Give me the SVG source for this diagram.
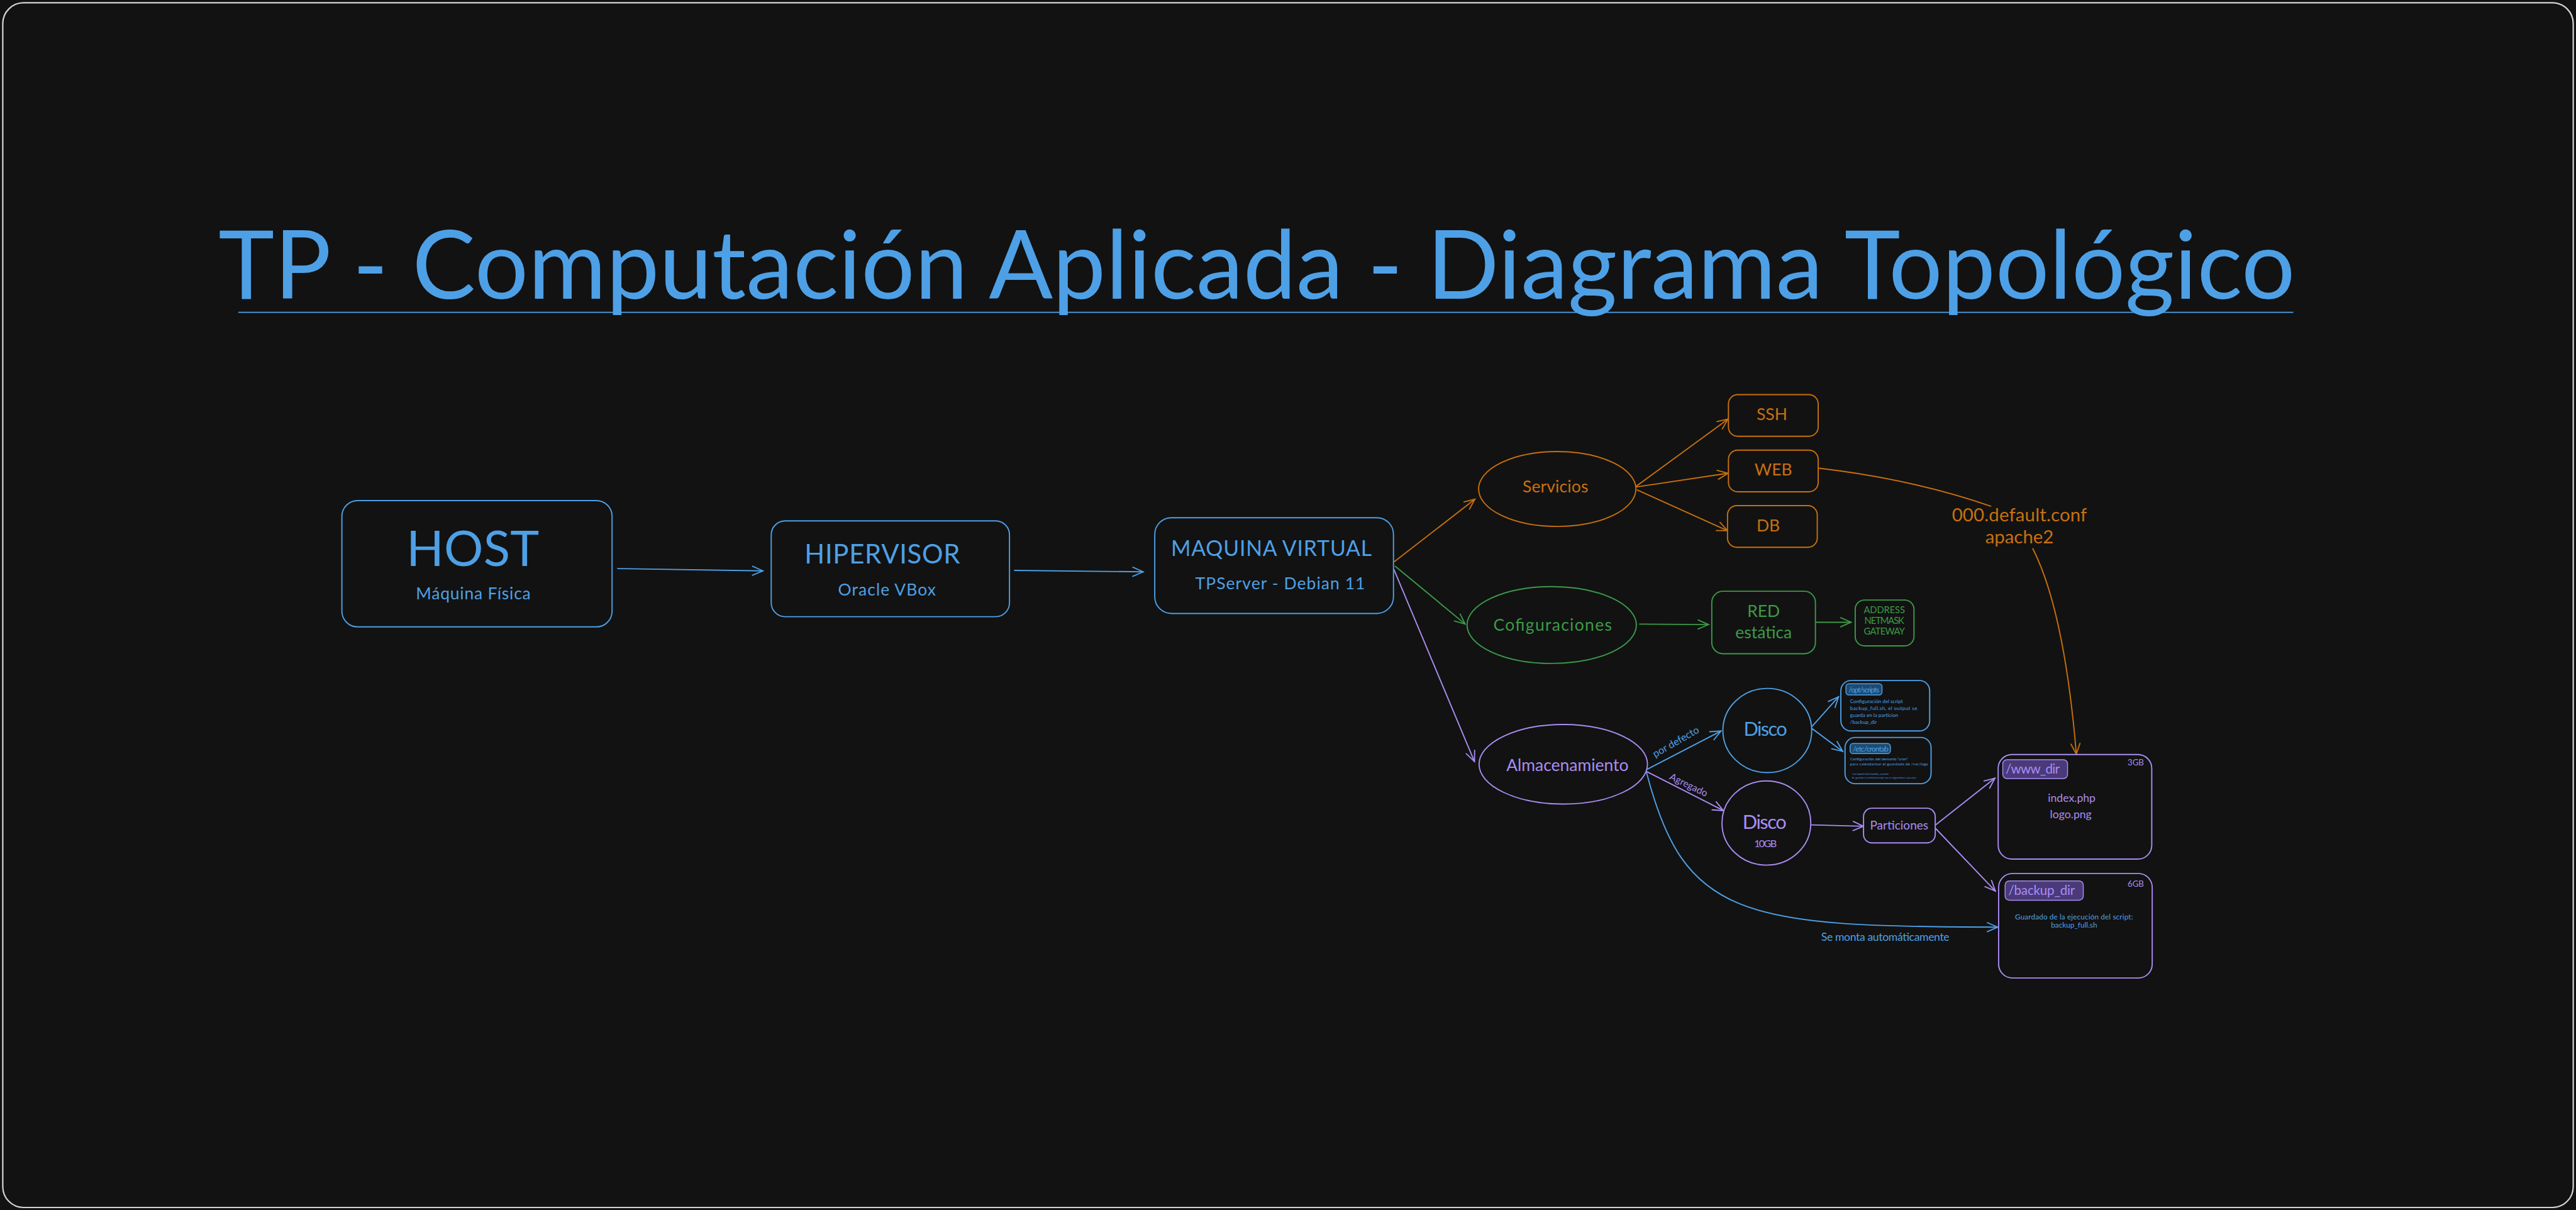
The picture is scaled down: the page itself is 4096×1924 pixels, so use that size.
<svg xmlns="http://www.w3.org/2000/svg" width="4096" height="1924" viewBox="0 0 4096 1924">
<defs>
<style>
.sans{font-family:"Lato","Noto Sans",sans-serif}
.hand{font-family:"Lato","Noto Sans",sans-serif}
.nb{fill:#121212;stroke-width:2.6}
.blue{stroke:#4ea0e6}
.orange{stroke:#c8700e}
.green{stroke:#3c9a48}
.purple{stroke:#a98df2}
.tb{fill:#4ea0e6}
.to{fill:#c8700e}
.tg{fill:#3c9a48}
.tp{fill:#a98df2}
.mid{text-anchor:middle}
.conn path{fill:none;stroke-width:2.6;stroke-linecap:round}
</style>
<marker id="ab" viewBox="0 0 20 20" refX="18" refY="10" markerWidth="28" markerHeight="28" markerUnits="userSpaceOnUse" orient="auto"><path d="M2,3 L18,10 L2,17" fill="none" stroke="#4ea0e6" stroke-width="1.8" stroke-linecap="round"/></marker>
<marker id="ao" viewBox="0 0 20 20" refX="18" refY="10" markerWidth="28" markerHeight="28" markerUnits="userSpaceOnUse" orient="auto"><path d="M2,3 L18,10 L2,17" fill="none" stroke="#c8700e" stroke-width="1.8" stroke-linecap="round"/></marker>
<marker id="ag" viewBox="0 0 20 20" refX="18" refY="10" markerWidth="28" markerHeight="28" markerUnits="userSpaceOnUse" orient="auto"><path d="M2,3 L18,10 L2,17" fill="none" stroke="#3c9a48" stroke-width="1.8" stroke-linecap="round"/></marker>
<marker id="ap" viewBox="0 0 20 20" refX="18" refY="10" markerWidth="28" markerHeight="28" markerUnits="userSpaceOnUse" orient="auto"><path d="M2,3 L18,10 L2,17" fill="none" stroke="#a98df2" stroke-width="1.8" stroke-linecap="round"/></marker>
</defs>
<rect x="0" y="0" width="4096" height="1924" fill="#121212"/>
<g transform="scale(0.735632)">
<rect x="6" y="6" width="5556" height="2604" rx="45" fill="#121212" stroke="#d4d4d4" stroke-width="3"/>

<g id="title">
<text class="sans tb" x="472" y="646" font-size="207" textLength="4489" lengthAdjust="spacingAndGlyphs">TP - Computación Aplicada - Diagrama Topológico</text>
<line x1="515" y1="675" x2="4957" y2="675" stroke="#4ea0e6" stroke-width="2.5"/>
</g>

<g class="conn">
<path class="blue" d="M1335,1229 L1649,1234" marker-end="url(#ab)"/>
<path class="blue" d="M2193,1233 L2471,1236" marker-end="url(#ab)"/>
<path class="orange" d="M3014,1214 L3188,1079" marker-end="url(#ao)"/>
<path class="green" d="M3016,1224 L3167,1349" marker-end="url(#ag)"/>
<path class="purple" d="M3013,1231 L3187,1646" marker-end="url(#ap)"/>
<path class="orange" d="M3534,1053 L3735,906" marker-end="url(#ao)"/>
<path class="orange" d="M3534,1053 L3735,1023" marker-end="url(#ao)"/>
<path class="orange" d="M3539,1059 L3734,1147" marker-end="url(#ao)"/>
<path class="orange" d="M3932,1012 Q4130,1035 4303,1094"/>
<path class="orange" d="M4394,1186 Q4462,1320 4488,1630" marker-end="url(#ao)"/>
<path class="green" d="M3544,1349 L3693,1350" marker-end="url(#ag)"/>
<path class="green" d="M3926,1345 L4001,1345" marker-end="url(#ag)"/>
<path class="blue" d="M3560,1663 L3720,1580" marker-end="url(#ab)"/>
<path class="purple" d="M3560,1668 L3725,1752" marker-end="url(#ap)"/>
<path class="blue" d="M3559,1670 C3640,1980 3760,2004 4318,2004" marker-end="url(#ab)"/>
<path class="blue" d="M3917,1570 L3974,1506" marker-end="url(#ab)"/>
<path class="blue" d="M3917,1575 L3983,1624" marker-end="url(#ab)"/>
<path class="purple" d="M3916,1783 L4028,1786" marker-end="url(#ap)"/>
<path class="purple" d="M4185,1782 L4312,1682" marker-end="url(#ap)"/>
<path class="purple" d="M4184,1791 L4313,1926" marker-end="url(#ap)"/>
<text class="hand tb mid" x="3626" y="1610" font-size="22" transform="rotate(-30 3626 1610)">por defecto</text>
<text class="hand tp mid" x="3647" y="1703" font-size="21" transform="rotate(26 3647 1703)">Agregado</text>
<text class="hand tb mid" x="4075" y="2033" font-size="24" textLength="277">Se monta automáticamente</text>
<text class="hand to mid" x="4365" y="1127" font-size="40" textLength="292">000.default.conf</text>
<text class="hand to mid" x="4365" y="1174" font-size="40">apache2</text>
</g>

<g id="host">
<rect class="nb blue" x="739" y="1082" width="584" height="273" rx="34"/>
<text class="sans tb mid" x="1022" y="1223" font-size="106" textLength="287">HOST</text>
<text class="hand tb mid" x="1023" y="1295" font-size="36" textLength="248">Máquina Física</text>
</g>

<g id="hipervisor">
<rect class="nb blue" x="1667" y="1126" width="515" height="207" rx="30"/>
<text class="sans tb mid" x="1907" y="1218" font-size="57" textLength="336">HIPERVISOR</text>
<text class="hand tb mid" x="1917" y="1288" font-size="36" textLength="211">Oracle VBox</text>
</g>

<g id="maquina-virtual">
<rect class="nb blue" x="2496" y="1119" width="516" height="207" rx="36"/>
<text class="sans tb mid" x="2748" y="1202" font-size="46" textLength="434">MAQUINA VIRTUAL</text>
<text class="hand tb mid" x="2767" y="1274" font-size="36" textLength="367">TPServer - Debian 11</text>
</g>

<g id="servicios">
<ellipse class="nb orange" cx="3366" cy="1057" rx="170" ry="81"/>
<text class="hand to mid" x="3362" y="1065" font-size="36" textLength="142">Servicios</text>
</g>

<g id="ssh">
<rect class="nb orange" x="3736" y="853" width="194" height="90" rx="20"/>
<text class="hand to mid" x="3830" y="908" font-size="36">SSH</text>
</g>

<g id="web">
<rect class="nb orange" x="3736" y="973" width="194" height="90" rx="20"/>
<text class="hand to mid" x="3833" y="1028" font-size="36">WEB</text>
</g>

<g id="db">
<rect class="nb orange" x="3734" y="1093" width="194" height="90" rx="20"/>
<text class="hand to mid" x="3822" y="1148" font-size="36">DB</text>
</g>

<g id="configuraciones">
<ellipse class="nb green" cx="3354" cy="1351" rx="183" ry="83"/>
<text class="hand tg mid" x="3356" y="1364" font-size="36" textLength="256">Cofiguraciones</text>
</g>

<g id="red">
<rect class="nb green" x="3700" y="1278" width="224" height="135" rx="24"/>
<text class="hand tg mid" x="3812" y="1334" font-size="36">RED</text>
<text class="hand tg mid" x="3812" y="1380" font-size="36">estática</text>
</g>

<g id="address">
<rect class="nb green" x="4010" y="1297" width="127" height="99" rx="20"/>
<text class="hand tg mid" x="4073" y="1326" font-size="20" textLength="89">ADDRESS</text>
<text class="hand tg mid" x="4073" y="1348" font-size="20" textLength="86">NETMASK</text>
<text class="hand tg mid" x="4073" y="1371" font-size="20" textLength="89">GATEWAY</text>
</g>

<g id="almacenamiento">
<ellipse class="nb purple" cx="3379" cy="1652" rx="182" ry="86"/>
<text class="hand tp mid" x="3388" y="1667" font-size="36" textLength="264">Almacenamiento</text>
</g>

<g id="disco1">
<ellipse class="nb blue" cx="3820" cy="1579" rx="96" ry="91"/>
<text class="hand tb mid" x="3816" y="1591" font-size="42" textLength="94">Disco</text>
</g>

<g id="disco2">
<ellipse class="nb purple" cx="3818" cy="1779" rx="96" ry="91"/>
<text class="hand tp mid" x="3814" y="1791" font-size="42" textLength="95">Disco</text>
<text class="hand tp mid" x="3816" y="1831" font-size="22" textLength="49">10GB</text>
</g>

<g id="opt-scripts">
<rect class="nb blue" x="3979" y="1471" width="192" height="109" rx="22"/>
<rect x="3990" y="1478" width="78" height="24" rx="6" fill="#1d4b71" stroke="#4ea0e6" stroke-width="2"/>
<text class="sans tb" x="3996" y="1496" font-size="16" textLength="66">/opt/scripts</text>
<text class="sans tb" x="3999" y="1520" font-size="11">Configuración del script</text>
<text class="sans tb" x="3999" y="1535" font-size="11" textLength="145">backup_full.sh, el output se</text>
<text class="sans tb" x="3999" y="1550" font-size="11">guarda en la particion</text>
<text class="sans tb" x="3999" y="1565" font-size="11">/backup_dir</text>
</g>

<g id="etc-crontab">
<rect class="nb blue" x="3988" y="1594" width="186" height="100" rx="22"/>
<rect x="3999" y="1607" width="87" height="22" rx="6" fill="#1d4b71" stroke="#4ea0e6" stroke-width="2"/>
<text class="sans tb" x="4005" y="1624" font-size="16" textLength="77">/etc/crontab</text>
<text class="sans tb" x="3999" y="1644" font-size="8.5">Configuración del demonio "cron"</text>
<text class="sans tb" x="3999" y="1655" font-size="8.5" textLength="168">para calendarizar el guardado de /var/logs</text>
<text class="sans tb" x="4003" y="1675" font-size="5.5">/var/spool/cron/nombre_usuario</text>
<text class="sans tb" x="4003" y="1683" font-size="5.5" textLength="139">Se guarda el archivo/script con el algoritmo a ejecutar</text>
</g>

<g id="particiones">
<rect class="nb purple" x="4028" y="1747" width="155" height="75" rx="18"/>
<text class="hand tp mid" x="4105" y="1793" font-size="26" textLength="126">Particiones</text>
</g>

<g id="www-dir">
<rect class="nb purple" x="4319" y="1631" width="332" height="226" rx="30"/>
<rect x="4329" y="1642" width="140" height="41" rx="9" fill="#4a3a7a" stroke="#a98df2" stroke-width="2"/>
<text class="hand tp" x="4335" y="1672" font-size="28" textLength="117">/www_dir</text>
<text class="hand tp" x="4634" y="1655" font-size="18" text-anchor="end">3GB</text>
<text class="hand tp mid" x="4478" y="1733" font-size="24">index.php</text>
<text class="hand tp mid" x="4476" y="1768" font-size="24">logo.png</text>
</g>

<g id="backup-dir">
<rect class="nb purple" x="4320" y="1888" width="332" height="226" rx="30"/>
<rect x="4334" y="1904" width="169" height="42" rx="9" fill="#4a3a7a" stroke="#a98df2" stroke-width="2"/>
<text class="hand tp" x="4341" y="1935" font-size="28" textLength="144">/backup_dir</text>
<text class="hand tp" x="4634" y="1917" font-size="18" text-anchor="end">6GB</text>
<text class="hand tb mid" x="4483" y="1988" font-size="16" textLength="255">Guardado de la ejecución del script:</text>
<text class="hand tb mid" x="4483" y="2005" font-size="16">backup_full.sh</text>
</g>
</g>
</svg>
